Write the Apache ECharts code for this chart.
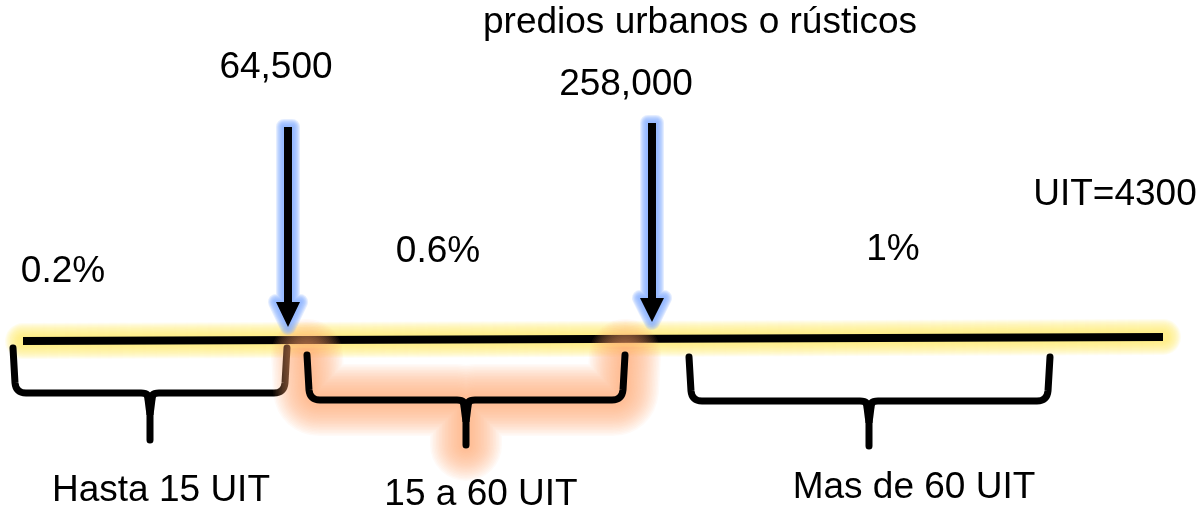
<!DOCTYPE html>
<html><head><meta charset="utf-8">
<script src="https://cdn.jsdelivr.net/npm/echarts@6/dist/echarts.min.js"></script>
<style>html,body{margin:0;padding:0;background:#fff}#c{width:1203px;height:520px}</style>
</head><body><div id="c"></div>
<script>
// ---- content (values / texts) ----
const titleText = 'predios urbanos o rústicos';
const uitNote = 'UIT=4300';
const thresholds = ['64,500', '258,000'];
const rates = ['0.2%', '0.6%', '1%'];
const ranges = ['Hasta 15 UIT', '15 a 60 UIT', 'Mas de 60 UIT'];

// ---- schematic layout (diagram units on hidden axes) ----
const layout = {
  line: [[23, 341], [1163, 337]],
  arrows: [{x: 288, top: 127, head: 302, tip: 327}, {x: 652, top: 123, head: 298, tip: 322}],
  thresholdPos: [[276, 68], [626, 85]],
  ratePos: [[63, 272], [438, 252], [893, 250]],
  braces: [
    {x1: 13, x2: 287, xc: 150, yT: 348, yH: 393, yB: 440},
    {x1: 307, x2: 625, xc: 466, yT: 355, yH: 400, yB: 445},
    {x1: 689, x2: 1050, xc: 869, yT: 357, yH: 401, yB: 446}
  ],
  rangePos: [[161, 491], [481, 495], [914, 488]],
  titlePos: [700, 23],
  notePos: [1115, 195]
};

const FONT = '37px "Liberation Sans", Arial, sans-serif';
const chart = echarts.init(document.getElementById('c'), null, {renderer: 'canvas'});

function txt(api, pos, str) {
  const p = api.coord(pos);
  return {type: 'text', x: p[0], y: p[1], style: {text: str, fill: '#000', font: FONT, align: 'center', verticalAlign: 'middle'}};
}
// soft glow built from many thin translucent strokes of decreasing width
function glowLayers(type, shape, wMax, wMin, step, color) {
  const out = [];
  for (let w = wMax; w >= wMin; w -= step) {
    out.push({type, shape, style: {fill: null, stroke: color, lineWidth: w, lineCap: 'round', lineJoin: 'round'}});
  }
  return out;
}
function bracePath(api, b) {
  const P = (x, y) => api.coord([x, y]).join(' ');
  const r = 10, r2 = 9;
  return 'M ' + P(b.x1, b.yT) + ' L ' + P(b.x1 + 2, b.yH - r) + ' Q ' + P(b.x1 + 3, b.yH) + ' ' + P(b.x1 + r + 3, b.yH) +
    ' L ' + P(b.xc - r2, b.yH) + ' Q ' + P(b.xc, b.yH) + ' ' + P(b.xc, b.yH + r2) + ' L ' + P(b.xc, b.yB) +
    ' M ' + P(b.x2, b.yT) + ' L ' + P(b.x2 - 2, b.yH - r) + ' Q ' + P(b.x2 - 3, b.yH) + ' ' + P(b.x2 - r - 3, b.yH) +
    ' L ' + P(b.xc + r2, b.yH) + ' Q ' + P(b.xc, b.yH) + ' ' + P(b.xc, b.yH + r2);
}
function cuspWedge(api, b) {
  const P = (x, y) => api.coord([x, y]);
  return [P(b.xc - 6, b.yH + 3), P(b.xc + 6, b.yH + 3), P(b.xc + 3.5, b.yH + 22), P(b.xc - 3.5, b.yH + 22)];
}

const option = {
  animation: false,
  grid: {left: 0, right: 0, top: 0, bottom: 0},
  xAxis: {type: 'value', min: 0, max: 1203, show: false},
  yAxis: {type: 'value', min: 0, max: 520, inverse: true, show: false},
  series: [
    { // main line with yellow glow
      type: 'custom', coordinateSystem: 'cartesian2d', clip: false, silent: true, z: 1,
      data: [[0]],
      renderItem(params, api) {
        const a = api.coord(layout.line[0]), b = api.coord(layout.line[1]);
        const shape = {x1: a[0], y1: a[1], x2: b[0], y2: b[1]};
        const children = glowLayers('line', shape, 36, 10, 2, 'rgba(255,238,110,0.1)');
        children.push({type: 'line', shape, style: {stroke: '#000', lineWidth: 8, lineCap: 'butt'}});
        return {type: 'group', children};
      }
    },
    { // braces
      type: 'custom', coordinateSystem: 'cartesian2d', clip: false, silent: true, z: 2,
      data: ranges.map((r, i) => [i]),
      renderItem(params, api) {
        const i = params.dataIndex, b = layout.braces[i];
        const d = bracePath(api, b);
        let children = [];
        if (i === 1) {
          children = glowLayers('path', {pathData: d}, 72, 12, 3, 'rgba(255,160,105,0.055)');
        }
        children.push({type: 'path', shape: {pathData: d}, style: {fill: null, stroke: '#000', lineWidth: 7, lineCap: 'round', lineJoin: 'round'}});
        children.push({type: 'polygon', shape: {points: cuspWedge(api, b)}, style: {fill: '#000'}});
        children.push(txt(api, layout.rangePos[i], ranges[i]));
        return {type: 'group', children};
      }
    },
    { // arrows with blue glow
      type: 'custom', coordinateSystem: 'cartesian2d', clip: false, silent: true, z: 3,
      data: thresholds.map((t, i) => [i]),
      renderItem(params, api) {
        const i = params.dataIndex, a = layout.arrows[i];
        const t = api.coord([a.x, a.top]), h = api.coord([a.x, a.head]), tip = api.coord([a.x, a.tip]);
        const hw = 12, sw = 4;
        const pts = [[t[0] - sw, t[1]], [t[0] + sw, t[1]], [h[0] + sw, h[1]], [h[0] + hw, h[1]], [tip[0], tip[1]], [h[0] - hw, h[1]], [h[0] - sw, h[1]]];
        const children = glowLayers('polygon', {points: pts}, 16, 4, 2, 'rgba(130,175,255,0.22)');
        children.push({type: 'polygon', shape: {points: pts}, style: {fill: '#000'}});
        children.push(txt(api, layout.thresholdPos[i], thresholds[i]));
        return {type: 'group', children};
      }
    },
    { // rates, title, note
      type: 'custom', coordinateSystem: 'cartesian2d', clip: false, silent: true, z: 4,
      data: rates.map((r, i) => [i]),
      renderItem(params, api) {
        const i = params.dataIndex;
        const children = [txt(api, layout.ratePos[i], rates[i])];
        if (i === 0) {
          children.push(txt(api, layout.titlePos, titleText));
          children.push(txt(api, layout.notePos, uitNote));
        }
        return {type: 'group', children};
      }
    }
  ]
};
chart.setOption(option);
</script>
</body></html>
